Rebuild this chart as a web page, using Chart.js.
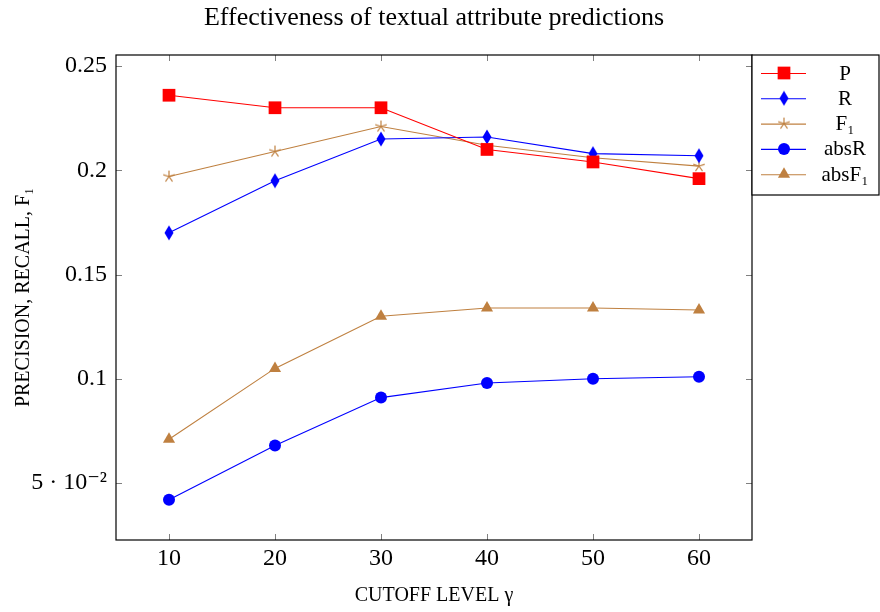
<!DOCTYPE html>
<html>
<head>
<meta charset="utf-8">
<script src="https://cdn.jsdelivr.net/npm/chart.js@4.4.0/dist/chart.umd.min.js"></script>
<style>
  html, body { margin: 0; padding: 0; background: #fff; }
  #wrap { width: 880px; height: 612px; }
</style>
</head>
<body>
<div id="wrap"><canvas id="myChart"></canvas></div>
<script>
// data
var cutoffs = [10, 20, 30, 40, 50, 60];
var precision = [0.236, 0.230, 0.230, 0.210, 0.204, 0.196];
var recall = [0.170, 0.195, 0.215, 0.216, 0.208, 0.207];
var f1 = [0.197, 0.209, 0.221, 0.212, 0.206, 0.202];
var absRecall = [0.042, 0.068, 0.091, 0.098, 0.100, 0.101];
var absF1 = [0.071, 0.105, 0.130, 0.134, 0.134, 0.133];
var xTicks = [10, 20, 30, 40, 50, 60];
var yTicks = [0.05, 0.1, 0.15, 0.2, 0.25];
var labels = ['P', 'R', 'F\u2081', 'absR', 'absF\u2081'];
var chartTitle = 'Effectiveness of textual attribute predictions';

var RED = '#ff0000';
var BLUE = '#0000ff';
var BROWN = '#bf8040';
var SERIF = '"Liberation Serif", "DejaVu Serif", serif';

function points(ys) {
  return cutoffs.map(function (x, i) { return { x: x, y: ys[i] }; });
}

// pgfplots-like markers
function diamondMark() {
  var c = document.createElement('canvas');
  c.width = 10; c.height = 16;
  var g = c.getContext('2d');
  g.fillStyle = BLUE;
  g.beginPath();
  g.moveTo(5, 0.5); g.lineTo(9.5, 8); g.lineTo(5, 15.5); g.lineTo(0.5, 8);
  g.closePath(); g.fill();
  return c;
}
function starMark() {
  var c = document.createElement('canvas');
  c.width = 14; c.height = 14;
  var g = c.getContext('2d');
  g.strokeStyle = BROWN; g.lineWidth = 1.2;
  g.beginPath();
  for (var k = 0; k < 5; k++) {
    var a = -Math.PI / 2 + k * 2 * Math.PI / 5;
    g.moveTo(7, 7);
    g.lineTo(7 + 6 * Math.cos(a), 7 + 6 * Math.sin(a));
  }
  g.stroke();
  return c;
}
var diamond = diamondMark();
var star = starMark();

function series(label, ys, color, style, radius) {
  return {
    label: label,
    data: points(ys),
    borderColor: color,
    backgroundColor: color,
    borderWidth: 1.1,
    pointStyle: style,
    pointRadius: radius,
    pointHoverRadius: radius,
    pointBorderWidth: 0,
    tension: 0
  };
}

var frame = {
  id: 'frame',
  afterDraw: function (chart) {
    var ctx = chart.ctx;
    var a = chart.chartArea;
    var xs = chart.scales.x, ys = chart.scales.y;
    ctx.save();
    // title, centred over the plot box
    ctx.fillStyle = '#000';
    ctx.font = '26px ' + SERIF;
    ctx.textAlign = 'center';
    ctx.textBaseline = 'alphabetic';
    ctx.fillText(chartTitle, (a.left + a.right) / 2, 25);

    // inner ticks
    ctx.strokeStyle = '#808080';
    ctx.lineWidth = 1;
    ctx.beginPath();
    xTicks.forEach(function (v) {
      var px = Math.round(xs.getPixelForValue(v)) + 0.5;
      ctx.moveTo(px, a.bottom); ctx.lineTo(px, a.bottom - 6);
      ctx.moveTo(px, a.top); ctx.lineTo(px, a.top + 6);
    });
    yTicks.forEach(function (v) {
      var py = Math.round(ys.getPixelForValue(v)) + 0.5;
      ctx.moveTo(a.left, py); ctx.lineTo(a.left + 6, py);
      ctx.moveTo(a.right, py); ctx.lineTo(a.right - 6, py);
    });
    ctx.stroke();
    // box
    ctx.strokeStyle = '#000';
    ctx.lineWidth = 1.2;
    ctx.strokeRect(a.left, a.top, a.right - a.left, a.bottom - a.top);

    // legend box outside, to the right
    var lx = a.right, ly = a.top, lw = chart.width - a.right - 1, lh = 140;
    ctx.fillStyle = '#fff';
    ctx.fillRect(lx, ly, lw, lh);
    ctx.strokeRect(lx, ly, lw, lh);
    ctx.font = '21px ' + SERIF;
    ctx.textBaseline = 'middle';
    ctx.textAlign = 'center';
    chart.data.datasets.forEach(function (ds, i) {
      var cy = ly + 18 + i * 25.3;
      ctx.strokeStyle = ds.borderColor;
      ctx.lineWidth = 1.1;
      ctx.beginPath();
      ctx.moveTo(lx + 9, cy + 0.5); ctx.lineTo(lx + 54, cy + 0.5);
      ctx.stroke();
      var mx = lx + 32;
      if (ds.pointStyle instanceof HTMLCanvasElement) {
        var im = ds.pointStyle;
        ctx.drawImage(im, mx - im.width / 2, cy - im.height / 2);
      } else {
        ctx.fillStyle = ds.backgroundColor;
        Chart.helpers.drawPoint(ctx, {
          pointStyle: ds.pointStyle, radius: ds.pointRadius, rotation: 0, borderWidth: 0
        }, mx, cy);
      }
      ctx.fillStyle = '#000';
      ctx.fillText(ds.label, lx + 93, cy + 1);
    });
    ctx.restore();
  }
};

var ctx = document.getElementById('myChart').getContext('2d');
var chart = new Chart(ctx, {
  type: 'line',
  data: {
    datasets: [
      series(labels[0], precision, RED, 'rect', 9),
      series(labels[1], recall, BLUE, diamond, 7),
      series(labels[2], f1, BROWN, star, 6),
      series(labels[3], absRecall, BLUE, 'circle', 6),
      series(labels[4], absF1, BROWN, 'triangle', 7)
    ]
  },
  options: {
    responsive: true,
    maintainAspectRatio: false,
    animation: false,
    layout: { padding: { top: 55, right: 128, left: 0, bottom: 0 } },
    plugins: {
      legend: { display: false },
      tooltip: { enabled: false },
      title: { display: false }
    },
    scales: {
      x: {
        type: 'linear',
        min: 5, max: 65,
        afterBuildTicks: function (s) { s.ticks = xTicks.map(function (v) { return { value: v }; }); },
        afterFit: function (s) { s.height = 72; },
        grid: { display: false, drawTicks: false },
        border: { display: false },
        ticks: {
          color: '#000', padding: 4,
          font: { family: SERIF, size: 24 },
          callback: function (v) { return String(v); }
        },
        title: {
          display: true,
          text: 'CUTOFF LEVEL \u03b3',
          color: '#000',
          font: { family: SERIF, size: 20 },
          padding: { top: 6, bottom: 4 }
        }
      },
      y: {
        type: 'linear',
        min: 0.0227, max: 0.2553,
        afterBuildTicks: function (s) { s.ticks = yTicks.map(function (v) { return { value: v }; }); },
        afterFit: function (s) { s.width = 116; },
        grid: { display: false, drawTicks: false },
        border: { display: false },
        ticks: {
          color: '#000', padding: 9,
          font: { family: SERIF, size: 24 },
          callback: function (v) {
            if (Math.abs(v - 0.05) < 1e-9) return '5 \u00b7 10\u207b\u00b2';
            return String(Math.round(v * 100) / 100);
          }
        },
        title: {
          display: true,
          text: 'PRECISION, RECALL, F\u2081',
          color: '#000',
          font: { family: SERIF, size: 20 },
          padding: { top: 12, bottom: 0 }
        }
      }
    }
  },
  plugins: [frame]
});
</script>
</body>
</html>
